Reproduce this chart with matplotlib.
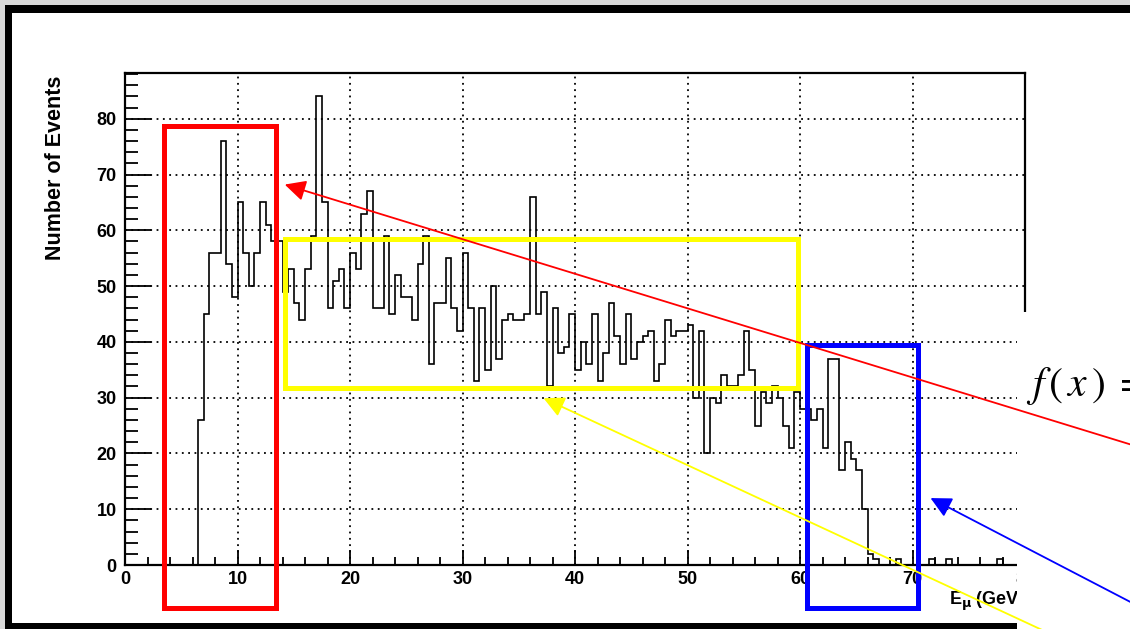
#!/usr/bin/env python3

import numpy as np
import matplotlib
matplotlib.use("Agg")
import matplotlib.pyplot as plt
from matplotlib.patches import Rectangle, FancyArrowPatch

W, H, DPI = 1130, 629, 100

# histogram: 0.5 GeV bins from 0 to 80 GeV
BIN_EDGES = np.arange(0, 80.5, 0.5)
COUNTS = [
    0, 0, 0, 0, 0, 0, 0, 0, 0, 0,            # 0 - 4.5
    0, 0, 0, 26, 45, 56, 56, 76, 54, 48,     # 5 - 9.5
    65, 56, 50, 56, 65, 61, 58, 58, 49, 53,  # 10 - 14.5
    47, 44, 53, 59, 84, 65, 46, 51, 53, 46,  # 15 - 19.5
    56, 53, 63, 67, 46, 46, 59, 45, 52, 48,  # 20 - 24.5
    48, 44, 54, 59, 36, 47, 47, 55, 46, 42,  # 25 - 29.5
    56, 46, 33, 46, 35, 50, 37, 44, 45, 44,  # 30 - 34.5
    44, 45, 66, 45, 49, 32, 46, 38, 39, 45,  # 35 - 39.5
    35, 40, 36, 45, 33, 38, 47, 41, 36, 45,  # 40 - 44.5
    37, 40, 41, 42, 33, 36, 44, 41, 42, 42,  # 45 - 49.5
    43, 30, 42, 20, 30, 29, 34, 32, 32, 34,  # 50 - 54.5
    42, 35, 25, 31, 29, 32, 30, 25, 21, 31,  # 55 - 59.5
    28, 28, 26, 28, 21, 37, 37, 17, 22, 19,  # 60 - 64.5
    17, 10, 2, 1, 0, 0, 0, 1, 0, 0,          # 65 - 69.5
    0, 0, 0, 1, 0, 0, 1, 0, 0, 0,            # 70 - 74.5
    0, 0, 0, 0, 0, 1, 0, 0, 0, 0,            # 75 - 79.5
]

X_TICKS = [0, 10, 20, 30, 40, 50, 60, 70, 80]
Y_TICKS = [0, 10, 20, 30, 40, 50, 60, 70, 80]

# highlighted regions (x0, x1, y0, y1) in data units, and arrows (tip, tail)
RED_BOX = (3.5, 13.4, -7.7, 78.7)
YELLOW_BOX = (14.2, 59.8, 31.7, 58.4)
BLUE_BOX = (60.6, 70.5, -7.7, 39.4)
RED_ARROW = ((14.2, 68.2), (90.2, 21.1))
YELLOW_ARROW = ((37.2, 29.9), (86.7, -16.5))
BLUE_ARROW = ((71.6, 12.0), (90.2, -7.5))


def px_rect(x0, y0, x1, y1, color, z):
    # rectangle in pixel coords (origin top-left)
    return Rectangle((x0 / W, 1 - y1 / H), (x1 - x0) / W, (y1 - y0) / H,
                     transform=fig.transFigure, facecolor=color,
                     edgecolor="none", zorder=z)


fig = plt.figure(figsize=(W / DPI, H / DPI), dpi=DPI)
fig.patch.set_facecolor("#d8d8d8")
fig.add_artist(px_rect(5, 5, W + 5, H + 5, "black", -3))
fig.add_artist(px_rect(12, 13, W + 5, 623, "white", -2))

ax = fig.add_axes([125 / W, 1 - 565 / H, 900 / W, 492 / H])
ax.set_facecolor("white")
ax.stairs(COUNTS, BIN_EDGES, color="black", linewidth=1.2)

ax.set_xlim(0, 80)
ax.set_ylim(0, 88.2)
ax.set_xticks(X_TICKS)
ax.set_yticks(Y_TICKS)
ax.set_xticks(np.arange(0, 81, 2), minor=True)
ax.set_yticks(np.arange(0, 89, 2), minor=True)
ax.grid(True, which="major", color="black", linestyle=(0, (1, 2.5)),
        linewidth=1.3)
ax.set_axisbelow(True)

ax.tick_params(axis="x", which="major", direction="in", length=11, width=1.3,
               pad=4, labelsize=13)
ax.tick_params(axis="x", which="minor", direction="in", length=5.5, width=1.3)
ax.tick_params(axis="y", which="major", direction="in", length=19, width=1.3,
               pad=6, labelsize=13)
ax.tick_params(axis="y", which="minor", direction="in", length=9.5, width=1.3)
for lab in ax.get_xticklabels() + ax.get_yticklabels():
    lab.set_fontweight("bold")
    lab.set_family("Liberation Sans")
for sp in ax.spines.values():
    sp.set_linewidth(1.6)

ax.set_ylabel("Number of Events", fontsize=15.5, fontweight="bold",
              family="Liberation Sans", loc="top")
ax.yaxis.set_label_coords(-0.065, 0.995)
ax.set_xlabel(r"E$_{\mathbf{\mu}}$ (GeV)", fontsize=13, fontweight="bold",
              family="Liberation Sans", loc="right")
ax.xaxis.set_label_coords(1.0, -0.05)

# white sheet covering the right-hand side (the formula runs off the edge)
fig.add_artist(px_rect(1017, 312, W + 5, H + 5, "white", 3))
fig.text(1026 / W, 1 - 386 / H, r"$f\,(\,x\,)\;=$", fontsize=30,
         math_fontfamily="stix", va="center", ha="left", zorder=4)

for (x0, x1, y0, y1), col in [(RED_BOX, "#ff0000"), (YELLOW_BOX, "#ffff00"),
                              (BLUE_BOX, "#0000ff")]:
    fig.add_artist(Rectangle((x0, y0), x1 - x0, y1 - y0, transform=ax.transData,
                             fill=False, edgecolor=col, linewidth=3.6,
                             zorder=5))

for (tip, tail), col in [(RED_ARROW, "#ff0000"), (YELLOW_ARROW, "#ffff00"),
                         (BLUE_ARROW, "#0000ff")]:
    fig.add_artist(FancyArrowPatch(tail, tip, transform=ax.transData,
                                   arrowstyle="-|>,head_length=0.9,head_width=0.45",
                                   mutation_scale=14, color=col,
                                   linewidth=1.3, shrinkA=0, shrinkB=0,
                                   zorder=6))

fig.savefig("out.png", dpi=DPI)
